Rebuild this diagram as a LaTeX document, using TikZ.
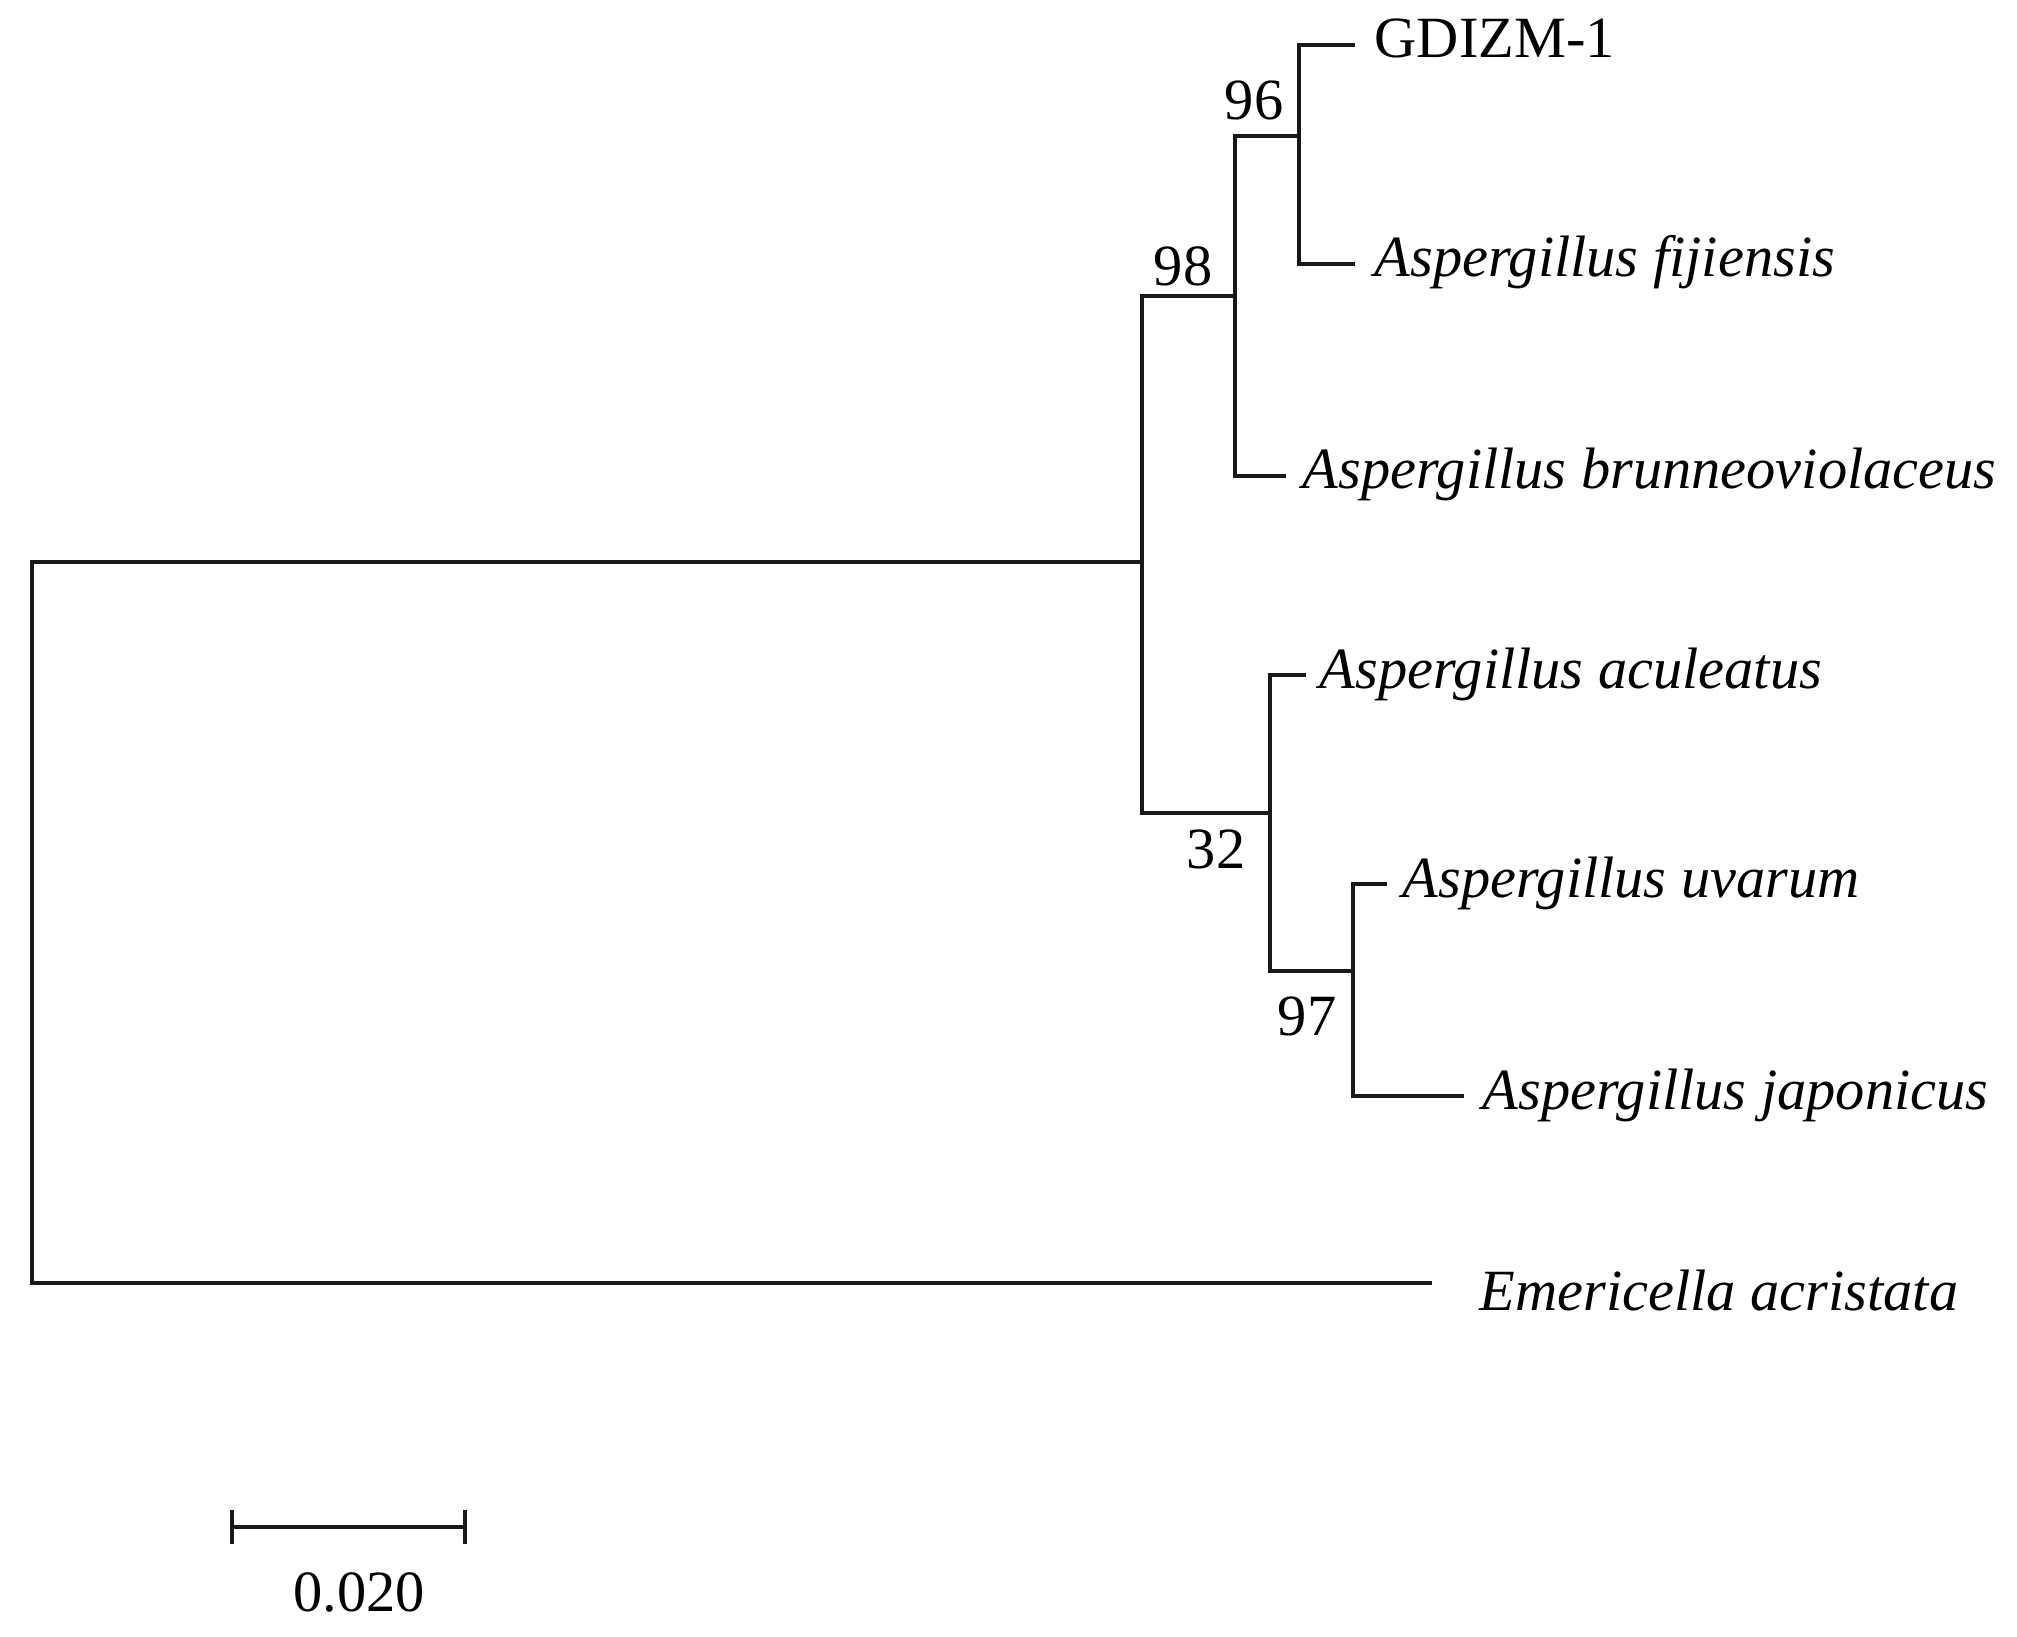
\documentclass[tikz,border=0pt]{standalone}
\usepackage{fontspec}
\setmainfont{Liberation Serif}
\usetikzlibrary{calc}
\begin{document}
\begin{tikzpicture}[x=0.25pt,y=-0.25pt,
  br/.style={line width=0.8pt, black!90},
  leaf/.style={anchor=base west, inner sep=0pt, font=\fontsize{14.6}{17}\selectfont\itshape},
  plain/.style={anchor=base west, inner sep=0pt, font=\fontsize{14.6}{17}\selectfont},
  boot/.style={anchor=center, inner sep=0pt, font=\fontsize{14.6}{17}\selectfont}]
\useasboundingbox (0,0) rectangle (2017,1637);
% internal nodes
\coordinate (root) at (32,562);
\coordinate (rootB) at (32,1283);
\coordinate (nIn) at (1142,562);
\coordinate (nInT) at (1142,296);
\coordinate (nInB) at (1142,813);
\coordinate (n98) at (1235,296);
\coordinate (n98T) at (1235,136);
\coordinate (n98B) at (1235,476);
\coordinate (n96) at (1299,136);
\coordinate (n96T) at (1299,45);
\coordinate (n96B) at (1299,264);
\coordinate (n32) at (1270,813);
\coordinate (n32T) at (1270,675);
\coordinate (n32B) at (1270,971);
\coordinate (n97) at (1353,971);
\coordinate (n97T) at (1353,884);
\coordinate (n97B) at (1353,1096);
% leaf ends
\coordinate (eG) at (1355,45);
\coordinate (eF) at (1355,264);
\coordinate (eBr) at (1286,476);
\coordinate (eAc) at (1306,675);
\coordinate (eUv) at (1387,884);
\coordinate (eJa) at (1464,1096);
\coordinate (eEm) at (1432,1283);
% leaf labels
\node[plain] (tG) at (1374,58) {GDIZM-1};
\node[leaf] (tF) at (1374,277) {Aspergillus fijiensis};
\node[leaf] (tBr) at (1302,489) {Aspergillus brunneoviolaceus};
\node[leaf] (tAc) at (1319,688) {Aspergillus aculeatus};
\node[leaf] (tUv) at (1402,897) {Aspergillus uvarum};
\node[leaf] (tJa) at (1482,1109) {Aspergillus japonicus};
\node[leaf] (tEm) at (1479,1310) {Emericella acristata};
% bootstrap values
\node[boot] (b96) at (1254,100) {96};
\node[boot] (b98) at (1183,266) {98};
\node[boot] (b32) at (1216,849) {32};
\node[boot] (b97) at (1307,1016) {97};
% branches
\draw[br] (eEm) -- (rootB) -- (root) -- (nIn);
\draw[br] (n98) -- (nInT) -- (nInB) -- (n32);
\draw[br] (n96) -- (n98T) -- (n98B) -- (eBr);
\draw[br] (eG) -- (n96T) -- (n96B) -- (eF);
\draw[br] (eAc) -- (n32T) -- (n32B) -- (n97);
\draw[br] (eUv) -- (n97T) -- (n97B) -- (eJa);
% scale bar
\coordinate (sL) at (232,1527);
\coordinate (sR) at (465,1527);
\draw[br] (sL) -- (sR);
\draw[br] ($(sL)+(0,-17)$) -- ($(sL)+(0,17)$);
\draw[br] ($(sR)+(0,-17)$) -- ($(sR)+(0,17)$);
\node[boot] (sLab) at (359,1592) {0.020};
\end{tikzpicture}
\end{document}
